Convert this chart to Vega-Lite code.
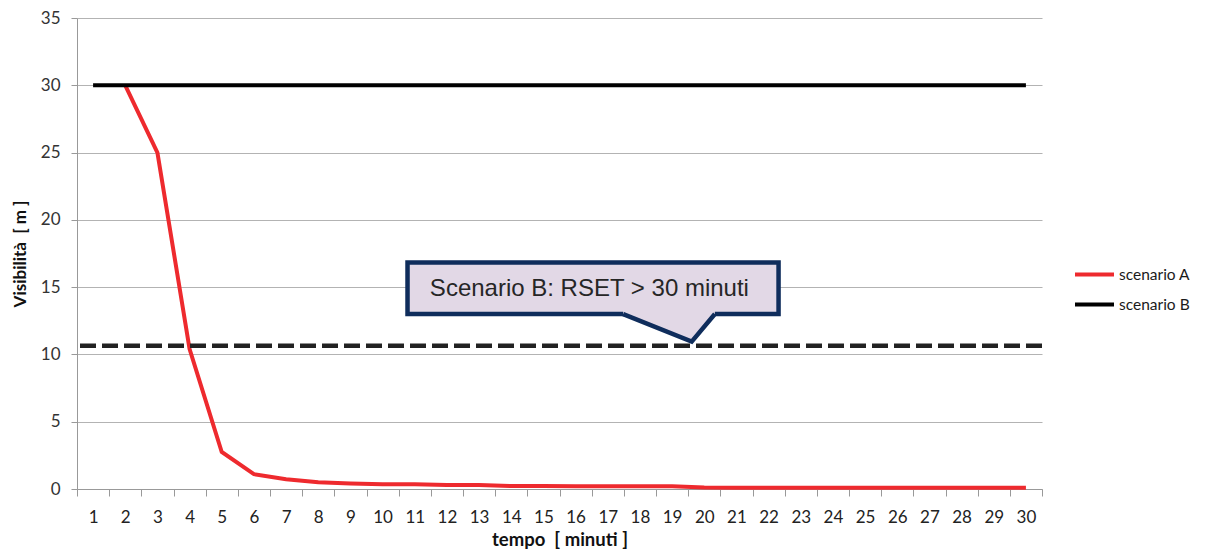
{
  "$schema": "https://vega.github.io/schema/vega-lite/v6.json",
  "width": 965,
  "height": 471,
  "autosize": {"type": "none"},
  "padding": {"left": 77, "top": 18, "right": 166, "bottom": 70},
  "background": "white",
  "config": {
    "view": {"stroke": null},
    "font": "Lato",
    "axis": {"labelFont": "Lato", "titleFont": "Lato"},
    "legend": {"labelFont": "Lato"}
  },
  "layer": [
    {
      "data": {"values": [
        {"t": 2, "v": 30, "serie": "scenario A"},
        {"t": 3, "v": 25, "serie": "scenario A"},
        {"t": 4, "v": 10.4, "serie": "scenario A"},
        {"t": 5, "v": 2.75, "serie": "scenario A"},
        {"t": 6, "v": 1.1, "serie": "scenario A"},
        {"t": 7, "v": 0.72, "serie": "scenario A"},
        {"t": 8, "v": 0.5, "serie": "scenario A"},
        {"t": 9, "v": 0.4, "serie": "scenario A"},
        {"t": 10, "v": 0.35, "serie": "scenario A"},
        {"t": 11, "v": 0.35, "serie": "scenario A"},
        {"t": 12, "v": 0.3, "serie": "scenario A"},
        {"t": 13, "v": 0.3, "serie": "scenario A"},
        {"t": 14, "v": 0.22, "serie": "scenario A"},
        {"t": 15, "v": 0.22, "serie": "scenario A"},
        {"t": 16, "v": 0.2, "serie": "scenario A"},
        {"t": 17, "v": 0.2, "serie": "scenario A"},
        {"t": 18, "v": 0.2, "serie": "scenario A"},
        {"t": 19, "v": 0.2, "serie": "scenario A"},
        {"t": 20, "v": 0.12, "serie": "scenario A"},
        {"t": 21, "v": 0.1, "serie": "scenario A"},
        {"t": 22, "v": 0.1, "serie": "scenario A"},
        {"t": 23, "v": 0.1, "serie": "scenario A"},
        {"t": 24, "v": 0.1, "serie": "scenario A"},
        {"t": 25, "v": 0.1, "serie": "scenario A"},
        {"t": 26, "v": 0.1, "serie": "scenario A"},
        {"t": 27, "v": 0.1, "serie": "scenario A"},
        {"t": 28, "v": 0.1, "serie": "scenario A"},
        {"t": 29, "v": 0.1, "serie": "scenario A"},
        {"t": 30, "v": 0.1, "serie": "scenario A"},
        {"t": 1, "v": 30, "serie": "scenario B"},
        {"t": 2, "v": 30, "serie": "scenario B"},
        {"t": 3, "v": 30, "serie": "scenario B"},
        {"t": 4, "v": 30, "serie": "scenario B"},
        {"t": 5, "v": 30, "serie": "scenario B"},
        {"t": 6, "v": 30, "serie": "scenario B"},
        {"t": 7, "v": 30, "serie": "scenario B"},
        {"t": 8, "v": 30, "serie": "scenario B"},
        {"t": 9, "v": 30, "serie": "scenario B"},
        {"t": 10, "v": 30, "serie": "scenario B"},
        {"t": 11, "v": 30, "serie": "scenario B"},
        {"t": 12, "v": 30, "serie": "scenario B"},
        {"t": 13, "v": 30, "serie": "scenario B"},
        {"t": 14, "v": 30, "serie": "scenario B"},
        {"t": 15, "v": 30, "serie": "scenario B"},
        {"t": 16, "v": 30, "serie": "scenario B"},
        {"t": 17, "v": 30, "serie": "scenario B"},
        {"t": 18, "v": 30, "serie": "scenario B"},
        {"t": 19, "v": 30, "serie": "scenario B"},
        {"t": 20, "v": 30, "serie": "scenario B"},
        {"t": 21, "v": 30, "serie": "scenario B"},
        {"t": 22, "v": 30, "serie": "scenario B"},
        {"t": 23, "v": 30, "serie": "scenario B"},
        {"t": 24, "v": 30, "serie": "scenario B"},
        {"t": 25, "v": 30, "serie": "scenario B"},
        {"t": 26, "v": 30, "serie": "scenario B"},
        {"t": 27, "v": 30, "serie": "scenario B"},
        {"t": 28, "v": 30, "serie": "scenario B"},
        {"t": 29, "v": 30, "serie": "scenario B"},
        {"t": 30, "v": 30, "serie": "scenario B"}
      ]},
      "mark": {"type": "line", "strokeWidth": 4, "strokeCap": "butt"},
      "encoding": {
        "x": {
          "field": "t", "type": "quantitative",
          "scale": {"domain": [0.5, 30.5], "nice": false, "zero": false},
          "axis": {
            "title": "tempo\u00a0\u00a0[ minuti ]",
            "values": [0.5, 1.5, 2.5, 3.5, 4.5, 5.5, 6.5, 7.5, 8.5, 9.5, 10.5, 11.5, 12.5, 13.5, 14.5, 15.5, 16.5, 17.5, 18.5, 19.5, 20.5, 21.5, 22.5, 23.5, 24.5, 25.5, 26.5, 27.5, 28.5, 29.5, 30.5],
            "tickCount": 60,
            "labelExpr": "datum.value < 30 ? format(datum.value + 0.5, 'd') : ''",
            "labelOffset": 16.08,
            "labelFontSize": 17,
            "labelColor": "#222222",
            "labelPadding": 13,
            "labelFlush": false,
            "labelOverlap": false,
            "grid": false,
            "tickSize": 7,
            "tickColor": "#999999",
            "domainColor": "#999999",
            "titleFontSize": 18.5,
            "titleFontWeight": "bold",
            "titleColor": "#111111",
            "titlePadding": 5
          }
        },
        "y": {
          "field": "v", "type": "quantitative",
          "scale": {"domain": [0, 35], "nice": false},
          "axis": {
            "title": "Visibilità\u00a0\u00a0[ m ]",
            "values": [0, 5, 10, 15, 20, 25, 30, 35],
            "tickCount": 20,
            "labelFontSize": 17,
            "labelColor": "#333333",
            "labelPadding": 11,
            "tickSize": 6,
            "tickColor": "#999999",
            "domainColor": "#999999",
            "gridColor": "#b3b3b3",
            "gridWidth": 1,
            "titleFontSize": 17,
            "titleFontWeight": "bold",
            "titleColor": "#111111",
            "titlePadding": 11
          }
        },
        "color": {
          "field": "serie", "type": "nominal",
          "scale": {"domain": ["scenario A", "scenario B"], "range": ["#ee2a2e", "#000000"]},
          "legend": {
            "title": null,
            "orient": "none",
            "legendX": 996,
            "legendY": 235,
            "symbolType": "stroke",
            "symbolSize": 1521,
            "symbolStrokeWidth": 4,
            "labelFontSize": 15.5,
            "labelColor": "#1a1a1a",
            "labelOffset": 3,
            "rowPadding": 0,
            "padding": 0
          }
        }
      }
    },
    {
      "data": {"values": [{"soglia": 10.65}]},
      "mark": {"type": "rule", "strokeWidth": 4.5, "strokeDash": [16, 6], "color": "#222222"},
      "encoding": {"y": {"field": "soglia", "type": "quantitative"}}
    },
    {
      "data": {"values": [{"x1": 10.775, "x2": 22.31, "y1": 16.83, "y2": 13.0}]},
      "mark": {"type": "rect", "fill": "#e2d8e6", "stroke": "#0f2d5c", "strokeWidth": 4.5},
      "encoding": {
        "x": {"field": "x1", "type": "quantitative"},
        "x2": {"field": "x2"},
        "y": {"field": "y1", "type": "quantitative"},
        "y2": {"field": "y2"}
      }
    },
    {
      "data": {"values": [
        {"px": 17.48, "py": 13.0, "top": 13.3},
        {"px": 19.61, "py": 10.95, "top": 13.3},
        {"px": 20.33, "py": 13.0, "top": 13.3}
      ]},
      "mark": {"type": "area", "fill": "#e2d8e6", "opacity": 1},
      "encoding": {
        "x": {"field": "px", "type": "quantitative"},
        "y": {"field": "py", "type": "quantitative"},
        "y2": {"field": "top"}
      }
    },
    {
      "data": {"values": [
        {"px": 17.48, "py": 13.0, "ord": 1},
        {"px": 19.61, "py": 10.95, "ord": 2},
        {"px": 20.33, "py": 13.0, "ord": 3}
      ]},
      "mark": {"type": "line", "stroke": "#0f2d5c", "strokeWidth": 4.5, "strokeJoin": "miter"},
      "encoding": {
        "x": {"field": "px", "type": "quantitative"},
        "y": {"field": "py", "type": "quantitative"},
        "order": {"field": "ord"}
      }
    },
    {
      "data": {"values": [{"tx": 11.47, "ty": 14.34, "label": "Scenario B: RSET > 30 minuti"}]},
      "mark": {"type": "text", "font": "Liberation Sans", "fontSize": 24, "align": "left", "baseline": "alphabetic", "color": "#262626"},
      "encoding": {
        "x": {"field": "tx", "type": "quantitative"},
        "y": {"field": "ty", "type": "quantitative"},
        "text": {"field": "label"}
      }
    }
  ]
}
